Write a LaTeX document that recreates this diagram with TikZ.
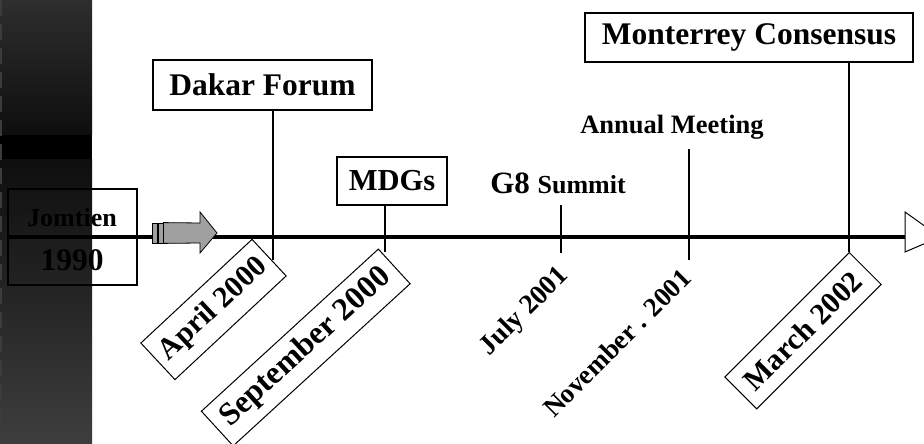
\documentclass[tikz,border=0pt]{standalone}
\usepackage{fontspec}
\setmainfont{Liberation Serif}
\newcommand\myfs[1]{\fontsize{#1}{#1}\selectfont}
\definecolor{bandtop}{HTML}{2E2E2E}
\definecolor{bandmid}{HTML}{0E0E0E}
\definecolor{bandbot}{HTML}{3E3E3E}
\definecolor{dashcol}{HTML}{3C3C3C}
\definecolor{arrowgray}{HTML}{A0A0A0}
\tikzset{
  evbox/.style={draw=black, line width=1.2pt, inner sep=0pt, font=\bfseries},
  evtext/.style={inner sep=0pt, font=\bfseries},
  conn/.style={line width=2pt},
}
\begin{document}
\begin{tikzpicture}[x=1pt,y=1pt]
\useasboundingbox (0,0) rectangle (924,444);
\fill[white] (0,0) rectangle (924,444);
% left dark band
\shade[top color=bandtop, bottom color=bandmid] (0,309) rectangle (92,444);
\fill[black] (0,284) rectangle (92,309);
\shade[top color=bandmid, bottom color=bandbot] (0,0) rectangle (92,284);
\draw[dashcol, line width=2.2pt, dash pattern=on 16pt off 8pt] (1.1,444) -- (1.1,0);

% Jomtien / 1990
\node[draw=black, line width=1.3pt, minimum width=129pt, minimum height=96pt, inner sep=0pt] (jom) at (72.5,207) {};
\node[evtext] (jomt) at (72,226) {\myfs{26}Jomtien};
\node[evtext] (jomy) at (72,184) {\myfs{31.5}1990};

% main time line
\coordinate (lineend) at (905,207);
\draw[line width=3.5pt] (jom.west) -- (lineend);
\filldraw[fill=white, draw=black, line width=1pt]
  (lineend) -- ++(0,25) -- ++(35,-25) -- ++(-35,-15) -- cycle;

% gray block arrow
\node[draw=black, fill=arrowgray, line width=0.8pt, minimum width=5pt, minimum height=20pt, inner sep=0pt] (st1) at (154.5,211) {};
\node[draw=black, fill=arrowgray, line width=0.8pt, minimum width=5pt, minimum height=20pt, inner sep=0pt] (st2) at (160.5,211) {};
\filldraw[fill=arrowgray, draw=black, line width=0.8pt]
  (st2.north east) -- (200,221) -- (200,232) -- (217,211) -- (200,191) -- (200,201) -- (st2.south east) -- cycle;

% Dakar Forum
\node[evbox, minimum width=219pt, minimum height=50pt] (dakar) at (262.5,359) {\myfs{31.5}Dakar Forum};
\coordinate (dk) at (273,184);
\draw[conn] (dk |- dakar.south) -- (dk);

% MDGs
\node[evbox, minimum width=110pt, minimum height=48pt] (mdg) at (392,263) {\myfs{30.5}MDGs};
\coordinate (md) at (385,192);
\draw[conn] (md |- mdg.south) -- (md);

% G8 Summit
\node[evtext] (g8) at (558,261) {\myfs{31}G8 \myfs{26}Summit};
\coordinate (g8a) at (561,239);
\coordinate (g8b) at (561,191);
\draw[conn] (g8a) -- (g8b);

% Annual Meeting
\node[evtext] (am) at (672,317) {\myfs{26.5}Annual Meeting};
\coordinate (ama) at (689,295);
\coordinate (amb) at (689,184);
\draw[conn] (ama) -- (amb);

% Monterrey Consensus
\node[evbox, minimum width=328pt, minimum height=49pt] (mon) at (749,406.5) {\myfs{31.5}Monterrey Consensus};
\coordinate (mc) at (849,192);
\draw[conn] (mc |- mon.south) -- (mc);

% rotated date labels
\node[evbox, line width=1pt, minimum width=152pt, minimum height=50pt, rotate=43] (apr) at (213.5,134.5) {\myfs{30}April 2000};
\node[evbox, line width=1pt, minimum width=240pt, minimum height=47pt, rotate=42.5] (sep) at (305.75,96.5) {\myfs{32}September 2000};
\node[evtext, rotate=45] (jul) at (525,132) {\myfs{27.5}July 2001};
\node[evtext, rotate=45] (nov) at (617,101) {\myfs{27}November . 2001};
\node[evbox, line width=1pt, minimum width=176pt, minimum height=45pt, rotate=45] (mar) at (803,113.25) {\myfs{30}March 2002};
\end{tikzpicture}
\end{document}
